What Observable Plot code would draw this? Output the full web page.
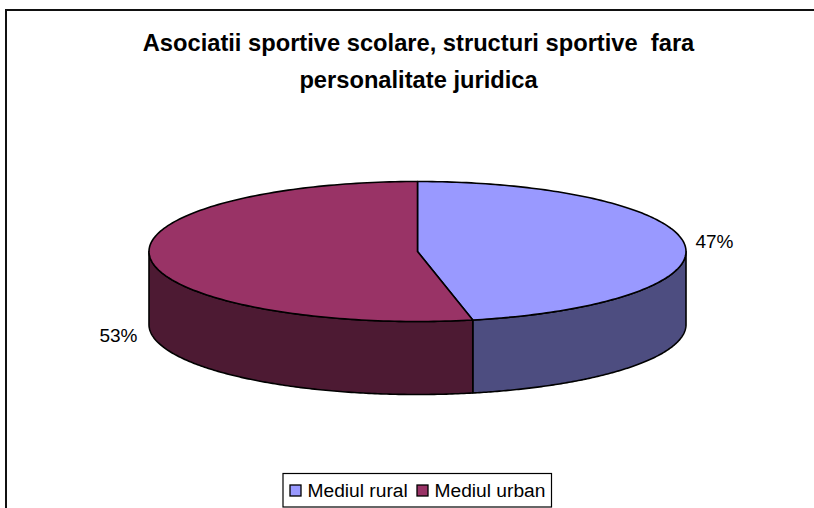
<!DOCTYPE html>
<html>
<head>
<meta charset="utf-8">
<script src="https://cdn.jsdelivr.net/npm/d3@7"></script>
<script src="https://cdn.jsdelivr.net/npm/@observablehq/plot@0.6"></script>
<style>
html,body{margin:0;padding:0;background:#fff;overflow:hidden}
svg{display:block}
</style>
</head>
<body>
<div id="chart"></div>
<script>
const titleLines = ["Asociatii sportive scolare, structuri sportive  fara", "personalitate juridica"];
const categories = ["Mediul rural", "Mediul urban"];
const shares = [46.7, 53.3];
const percentLabels = ["47%", "53%"];
const topColors = ["#9999FF", "#993366"];
const sideColors = ["#4D4D80", "#4D1A33"];

const W = 814, H = 508;
const cx = 417, cy = 251, rx = 268.5, ry = 70, depth = 73;
const total = d3.sum(shares);
const ends = d3.cumsum(shares).map(v => v / total * 2 * Math.PI);
const starts = [0, ...ends.slice(0, -1)];

const at = (t, dy = 0) => ({x: cx + rx * Math.sin(t), y: cy - ry * Math.cos(t) + dy});
const arc = (a, b, dy = 0) => d3.range(0, 161).map(i => at(a + (b - a) * i / 160, dy));

function polygon(points, fill) {
  return Plot.line(points, {x: "x", y: "y", fill, stroke: "#000", strokeWidth: 1.6, strokeLinejoin: "round", curve: "linear"});
}

// Front wall runs from 90deg (right edge) through 180deg to 270deg (left edge)
const wallMarks = categories.map((c, i) => {
  const a = Math.max(starts[i], Math.PI / 2), b = Math.min(ends[i], 3 * Math.PI / 2);
  const top = arc(a, b), bottom = arc(a, b, depth).reverse();
  return polygon([...top, ...bottom, top[0]], sideColors[i]);
});
const topMarks = categories.map((c, i) => {
  const centre = {x: cx, y: cy};
  return polygon([centre, ...arc(starts[i], ends[i]), centre], topColors[i]);
});

const labelAnchors = [{x: 714, y: 241}, {x: 118, y: 335}];
const titleRows = titleLines.map((t, i) => ({t, x: 418, y: 43 + i * 36.5}));
const legendRows = categories.map((c, i) => ({c, fill: topColors[i], sx: [290, 417][i], tx: [307, 434][i]}));

const chart = Plot.plot({
  width: W, height: H,
  margin: 0,
  x: {domain: [0, W], range: [0, W], axis: null},
  y: {domain: [0, H], range: [0, H], axis: null},
  marks: [
    Plot.ruleY([9.5], {x1: 5, x2: W, stroke: "#111", strokeWidth: 2}),
    Plot.ruleX([5.5], {y1: 9, y2: H, stroke: "#111", strokeWidth: 2}),
    ...wallMarks,
    ...topMarks,
    Plot.text(titleRows, {x: "x", y: "y", text: "t", fontFamily: "Liberation Sans", fontWeight: "bold", fontSize: 23.7, fill: "#000", lineAnchor: "middle"}),
    Plot.text(percentLabels, {x: (d, i) => labelAnchors[i].x, y: (d, i) => labelAnchors[i].y, text: d => d, fontFamily: "Liberation Sans", fontSize: 19, fill: "#000", lineAnchor: "middle"}),
    Plot.rect([0], {x1: 283, x2: 551.5, y1: 473.5, y2: 507, fill: "#fff", stroke: "#000", strokeWidth: 1.2}),
    Plot.rect(legendRows, {x1: "sx", x2: d => d.sx + 11, y1: 485, y2: 496, fill: "fill", stroke: "#000", strokeWidth: 1.3}),
    Plot.text(legendRows, {x: "tx", y: 490, text: "c", textAnchor: "start", fontFamily: "Liberation Sans", fontSize: 19.2, fill: "#000", lineAnchor: "middle"})
  ]
});
document.getElementById("chart").appendChild(chart);
</script>
</body>
</html>
